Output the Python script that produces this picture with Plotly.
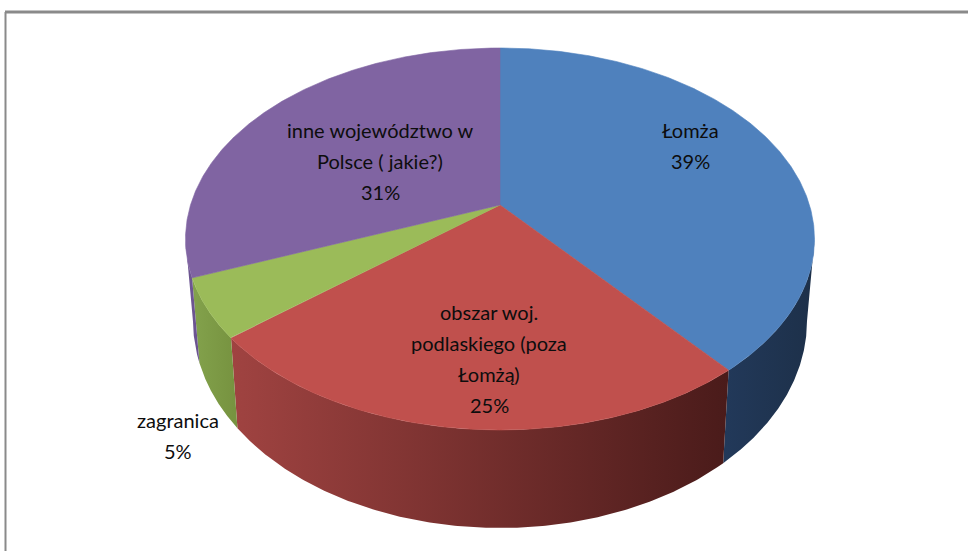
import numpy as np
import plotly.graph_objects as go

# ---- data ----
categories = ["Łomża", "obszar woj. podlaskiego (poza Łomżą)", "zagranica", "inne województwo w Polsce ( jakie?)"]
values = [39, 25, 5, 31]
label_lines = [
    ["Łomża", "39%"],
    ["obszar woj.", "podlaskiego (poza", "Łomżą)", "25%"],
    ["zagranica", "5%"],
    ["inne województwo w", "Polsce ( jakie?)", "31%"],
]

# ---- styles ----
top_colors = ["#4F81BD", "#C0504D", "#9BBB59", "#8064A2"]
side_grad = [
    ["#22395A", "#1D3049"],
    ["#A04341", "#4A1B1A"],
    ["#83A24C", "#76923F"],
    ["#6E5792", "#6A5290"],
]
label_pos = [(690, 130), (489, 312), (178, 420), (380, 130)]
line_gap = 31

W, H = 968, 551
# top ellipse
cx, cy, rx, ry = 500.0, 239.0, 314.5, 191.0
# bottom ellipse (perspective: slightly narrower, rounder, lower)
cxb, cyb, rxb, ryb = 500.0, 321.0, 307.0, 207.0
b = 0.178          # perspective shift of the pie centre toward the far side
s = np.sqrt(1 - b * b)


def boost(x, y):
    d = 1 + b * y
    return x * s / d, (y + b) / d


def top_pt(xp, yp):
    return cx + rx * xp, cy - ry * yp


def bot_pt(xp, yp):
    return cxb + rxb * xp, cyb - ryb * yp


# slice boundaries (clockwise from 12 o'clock), mapped through perspective
total = float(sum(values))
cum = np.concatenate([[0.0], np.cumsum(values) / total])
theta = np.pi / 2 - 2 * np.pi * cum
psi = []
for t in theta:
    xp, yp = boost(np.cos(t), np.sin(t))
    psi.append(np.arctan2(yp, xp))
psi = np.array(psi)
psi[0] = np.pi / 2
for i in range(1, len(psi)):
    while psi[i] > psi[i - 1]:
        psi[i] -= 2 * np.pi
psi[-1] = np.pi / 2 - 2 * np.pi

apex = top_pt(0.0, b)

fig = go.Figure()

# sides (front half only)
for i in range(len(values)):
    hi, lo = psi[i], psi[i + 1]
    a1, a0 = min(hi, 0.0), max(lo, -np.pi)
    if a1 <= a0:
        continue
    ang = np.linspace(a1, a0, 200)
    xt, yt = top_pt(np.cos(ang), np.sin(ang))
    xb, yb = bot_pt(np.cos(ang[::-1]), np.sin(ang[::-1]))
    xs = np.concatenate([xt, xb, xt[:1]])
    ys = np.concatenate([yt, yb, yt[:1]])
    fig.add_trace(go.Scatter(
        x=xs, y=ys, mode="lines", fill="toself",
        line=dict(width=0), hoverinfo="skip", showlegend=False,
        fillgradient=dict(type="horizontal",
                          colorscale=[[0, side_grad[i][0]], [1, side_grad[i][1]]]),
    ))

# top faces
for i in range(len(values)):
    ang = np.linspace(psi[i], psi[i + 1], 300)
    xt, yt = top_pt(np.cos(ang), np.sin(ang))
    xs = np.concatenate([[apex[0]], xt, [apex[0]]])
    ys = np.concatenate([[apex[1]], yt, [apex[1]]])
    fig.add_trace(go.Scatter(
        x=xs, y=ys, mode="lines", fill="toself", fillcolor=top_colors[i],
        line=dict(width=0.6, color=top_colors[i]), hoverinfo="skip",
        showlegend=False, name=categories[i],
    ))

# labels
annotations = []
for i, lines in enumerate(label_lines):
    x0, y0 = label_pos[i]
    for k, txt in enumerate(lines):
        annotations.append(dict(
            x=x0, y=y0 + k * line_gap, xref="x", yref="y", text=txt,
            showarrow=False, xanchor="center", yanchor="middle",
            font=dict(family="Lato, 'Open Sans', sans-serif", size=20, color="#0d0d0d"),
        ))

shapes = [
    dict(type="line", xref="x", yref="y", x0=5, x1=W + 5, y0=12, y1=12,
         line=dict(color="#8a8a8a", width=3)),
    dict(type="line", xref="x", yref="y", x0=5.5, x1=5.5, y0=12, y1=H + 5,
         line=dict(color="#8a8a8a", width=2)),
]

fig.update_layout(
    width=W, height=H, margin=dict(l=0, r=0, t=0, b=0),
    paper_bgcolor="white", plot_bgcolor="white",
    xaxis=dict(range=[0, W], visible=False, fixedrange=True),
    yaxis=dict(range=[H, 0], visible=False, fixedrange=True),
    annotations=annotations, shapes=shapes, showlegend=False,
)

fig.write_html("out.html", config={"displayModeBar": False},
               post_script="document.body.style.margin='0';document.body.style.overflow='hidden';")
